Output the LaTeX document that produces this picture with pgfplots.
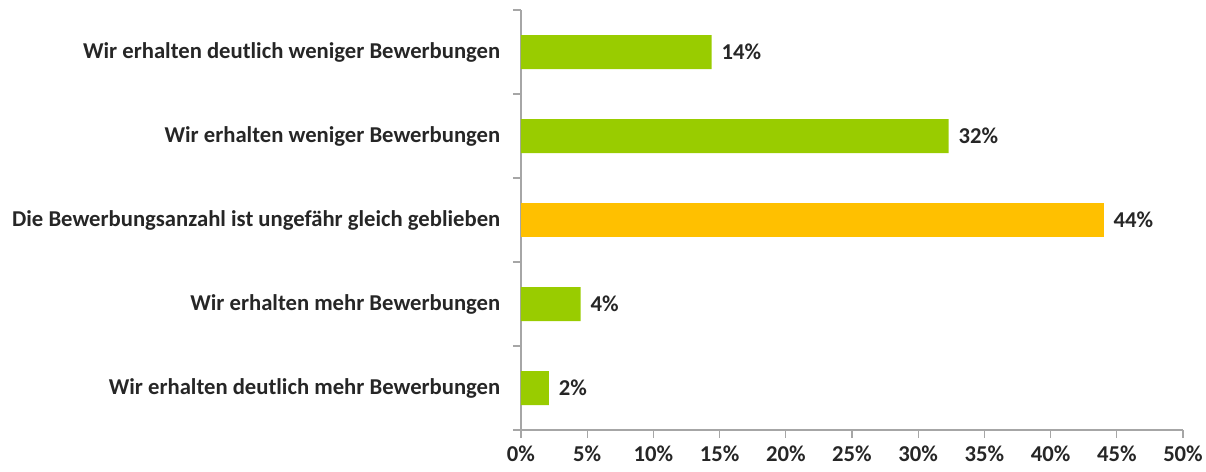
\documentclass[border=0pt]{standalone}
\usepackage{pgfplots}
\pgfplotsset{compat=1.18}
\usepackage{fontspec}
\setmainfont{Carlito}
\definecolor{bargreen}{HTML}{99CC00}
\definecolor{barorange}{HTML}{FFC000}
\definecolor{axgray}{HTML}{A6A6A6}
\begin{document}
\begin{tikzpicture}
\begin{axis}[
  scale only axis,
  width=496.5pt, height=315pt,
  at={(0,0)}, anchor=south west,
  xbar, bar shift=0pt, bar width=25.5pt,
  xmin=0, xmax=50, ymin=-0.5, ymax=4.5,
  xtick={0,5,...,50},
  xticklabel={\pgfmathprintnumber{\tick}\%},
  /pgf/number format/assume math mode=true,
  ytick={0,1,2,3,4},
  yticklabels={Wir erhalten deutlich mehr Bewerbungen,Wir erhalten mehr Bewerbungen,Die Bewerbungsanzahl ist ungefähr gleich geblieben,Wir erhalten weniger Bewerbungen,Wir erhalten deutlich weniger Bewerbungen},
  minor ytick={-0.5,0.5,1.5,2.5,3.5,4.5},
  major y tick style={draw=none},
  minor y tick style={draw=axgray, line width=0.8pt},
  axis x line*=bottom, axis y line*=left,
  axis line style={draw=axgray, line width=0.8pt},
  x axis line style={-}, y axis line style={-},
  xtick style={draw=axgray, line width=0.8pt},
  tick align=outside,
  major tick length=6pt, minor tick length=6pt,
  tick label style={font=\bfseries\fontsize{17}{20}\selectfont, text=black!85},
  yticklabel style={xshift=-6pt},
  xticklabel style={yshift=-2pt},
  nodes near coords={\pgfmathprintnumber{\pgfplotspointmeta}\%},
  point meta=explicit,
  nodes near coords style={font=\bfseries\fontsize{17}{20}\selectfont, text=black!85, anchor=west, xshift=4pt},
  clip=false,
]
\addplot[fill=bargreen, draw=none] coordinates {(14.4,4) [14] (32.3,3) [32] (4.5,1) [4] (2.1,0) [2]};
\addplot[fill=barorange, draw=none] coordinates {(44.0,2) [44]};
\end{axis}
\pgfresetboundingbox
\useasboundingbox (-390.75pt,-30.75pt) rectangle (513.75pt,322.5pt);
\end{tikzpicture}
\end{document}
